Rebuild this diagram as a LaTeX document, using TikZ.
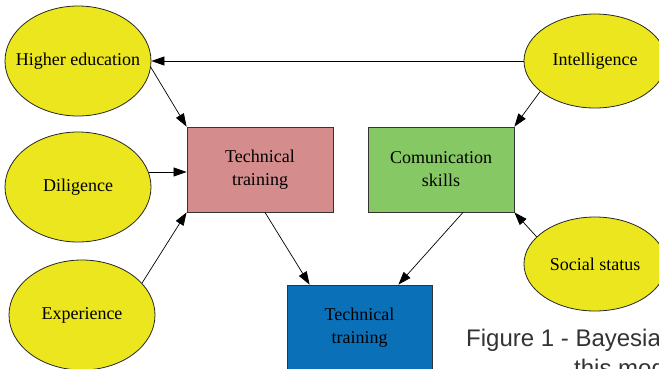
\documentclass[tikz,border=0pt]{standalone}
\usepackage{fontspec}
\setmainfont{Liberation Serif}
\newfontfamily\capfont{Liberation Sans}
\usepackage{xcolor}
\usepackage{tikz}
\usetikzlibrary{positioning, arrows.meta, shapes.geometric}

\definecolor{factyellow}{RGB}{235,230,30}
\definecolor{skillpink}{RGB}{212,140,140}
\definecolor{skillgreen}{RGB}{134,200,100}
\definecolor{skillblue}{RGB}{10,112,184}
\definecolor{capgray}{RGB}{51,51,51}

\begin{document}
\begin{tikzpicture}[x=1pt, y=-1pt, font=\fontsize{18}{23}\selectfont,
  factor/.style={ellipse, draw=black!85, line width=0.8pt, fill=factyellow, inner sep=0pt,
    minimum width=146pt, minimum height=110pt, label={[inner sep=0pt]center:#1}},
  smallfactor/.style={factor=#1, minimum width=142pt, minimum height=94pt},
  skill/.style={rectangle, draw=black!80, line width=0.8pt, align=center,
    minimum width=146pt, minimum height=85pt},
  link/.style={line width=0.7pt, -{Triangle[length=13pt,width=9pt]}},
  caption/.style={anchor=base west, inner sep=0pt, text=capgray,
    font=\capfont\fontsize{24}{28}\selectfont}]
  \useasboundingbox (0,0) rectangle (659,368);
  \clip (0,0) rectangle (659,368);

  % causes
  \node[factor=Higher education] (higher) at (78,61) {};
  \node[factor=Diligence] (dilig) at (78,187) {};
  \node[factor=Experience] (exper) at (82,315) {};
  \node[smallfactor=Intelligence] (intel) at (595,61) {};
  \node[smallfactor=Social status] (social) at (595,264) {};

  % skills
  \node[skill, fill=skillpink] (techA) at (260,169.5) {Technical\\training};
  \node[skill, fill=skillgreen] (comm) at (441,169.5) {Comunication\\skills};
  \node[skill, fill=skillblue, minimum width=145pt] (techB) at (359.5,327.5) {Technical\\training};

  \draw[link] (intel.west) -- (higher.east);
  \draw[link] (higher.-5) -- (techA.north west);
  \draw[link] (dilig.12) -- (techA.west |- dilig.12);
  \draw[link] (exper.28) -- (techA.south west);
  \draw[link] (intel.209) -- (comm.north east);
  \draw[link] (social.155) -- (comm.south east);
  \draw[link] ([xshift=5pt]techA.south) -- ([xshift=23pt]techB.north west);
  \draw[link] ([xshift=22pt]comm.south) -- ([xshift=-34pt]techB.north east);

  % caption
  \node[caption] (cap1) at (466,346) {Figure 1 - Bayesia};
  \node[caption] (cap2) at (574,376) {this mod};
\end{tikzpicture}
\end{document}
